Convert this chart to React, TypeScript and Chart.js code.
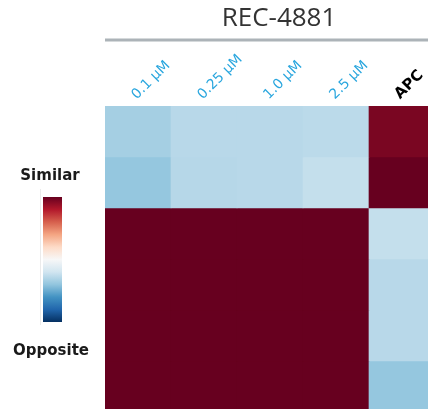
import React, { useEffect, useRef } from "react";
import { Chart, registerables } from "chart.js";

Chart.register(...registerables);

const columns = ["0.1 µM", "0.25 µM", "1.0 µM", "2.5 µM", "APC"];
const rowCount = 6;
// similarity values (-1 = opposite, 1 = similar), one array per row
const row0 = [-0.34, -0.28, -0.28, -0.27, 0.95];
const row1 = [-0.39, -0.285, -0.28, -0.24, 1.0];
const row2 = [1.0, 1.0, 1.0, 1.0, -0.24];
const row3 = [1.0, 1.0, 1.0, 1.0, -0.28];
const row4 = [1.0, 1.0, 1.0, 1.0, -0.28];
const row5 = [1.0, 1.0, 1.0, 1.0, -0.39];
const rows = [row0, row1, row2, row3, row4, row5];

const titleText = "REC-4881";
const legendTop = "Similar";
const legendBottom = "Opposite";

const rdbuStops = [
  "#053061", "#2166ac", "#4393c3", "#92c5de", "#d1e5f0", "#f7f7f7",
  "#fddbc7", "#f4a582", "#d6604d", "#b2182b", "#67001f",
];

function hexToRgb(h: string) {
  const n = parseInt(h.slice(1), 16);
  return [(n >> 16) & 255, (n >> 8) & 255, n & 255];
}

function rdbu(v: number) {
  const t = Math.max(0, Math.min(1, (v + 1) / 2)) * (rdbuStops.length - 1);
  const i = Math.min(rdbuStops.length - 2, Math.floor(t));
  const f = t - i;
  const a = hexToRgb(rdbuStops[i]);
  const b = hexToRgb(rdbuStops[i + 1]);
  const c = a.map((x, k) => Math.round(x + (b[k] - x) * f));
  return `rgb(${c[0]},${c[1]},${c[2]})`;
}

const decorPlugin = {
  id: "decor",
  afterDraw(chart: any) {
    const ctx = chart.ctx;
    const area = chart.chartArea;
    ctx.save();
    // title
    ctx.fillStyle = "#333333";
    ctx.font = "26px 'Open Sans'";
    ctx.textAlign = "center";
    ctx.textBaseline = "middle";
    ctx.fillText(titleText, 279, 19);
    // rule under title
    ctx.strokeStyle = "#acb3b8";
    ctx.lineWidth = 3;
    ctx.beginPath();
    ctx.moveTo(area.left, 40);
    ctx.lineTo(chart.width, 40);
    ctx.stroke();
    // legend labels
    ctx.fillStyle = "#1a1a1a";
    ctx.font = "bold 15px 'DejaVu Sans'";
    ctx.fillText(legendTop, 50, 176);
    ctx.fillText(legendBottom, 51, 351);
    // faint line
    ctx.strokeStyle = "#ebebeb";
    ctx.lineWidth = 1;
    ctx.beginPath();
    ctx.moveTo(40.5, 189);
    ctx.lineTo(40.5, 325);
    ctx.stroke();
    // gradient bar
    const g = ctx.createLinearGradient(0, 197, 0, 322);
    rdbuStops.forEach((c, i) => {
      g.addColorStop(1 - i / (rdbuStops.length - 1), c);
    });
    ctx.fillStyle = g;
    ctx.fillRect(43, 197, 19, 125);
    ctx.restore();
  },
};

export default function App() {
  const ref = useRef<HTMLCanvasElement>(null);
  useEffect(() => {
    if (!ref.current) return;
    const datasets = rows.map((vals, r) => ({
      label: `row ${r + 1}`,
      data: columns.map(() => [r, r + 1]),
      backgroundColor: vals.map(rdbu),
      borderWidth: 0,
      barPercentage: 1,
      categoryPercentage: 1,
      grouped: false,
    }));
    const chart = new Chart(ref.current, {
      type: "bar",
      data: { labels: columns, datasets: datasets as any },
      options: {
        animation: false,
        responsive: false,
        layout: { padding: { left: 105, right: 5, top: 46, bottom: 8 } },
        plugins: { legend: { display: false }, tooltip: { enabled: false }, title: { display: false } },
        scales: {
          x: {
            position: "top",
            grid: { display: false, drawTicks: false },
            border: { display: false },
            afterFit: (s: any) => {
              s.height = 60;
            },
            ticks: {
              autoSkip: false,
              minRotation: 45,
              maxRotation: 45,
              padding: 3,
              labelOffset: 8,
              color: (c: any) => (c.index === 4 ? "#000000" : "#29a6de"),
              font: (c: any) => ({
                family: "'DejaVu Sans'",
                size: c.index === 4 ? 15 : 14,
                weight: c.index === 4 ? "bold" : "normal",
              }),
            },
          },
          y: {
            display: false,
            reverse: true,
            min: 0,
            max: rowCount,
          },
        },
      },
      plugins: [decorPlugin],
    });
    return () => chart.destroy();
  }, []);
  return (
    <div
      style={{
        position: "fixed",
        left: 0,
        top: 0,
        width: 428,
        height: 409,
        overflow: "hidden",
        background: "#ffffff",
      }}
    >
      <canvas ref={ref} width={440} height={420} style={{ display: "block" }} />
    </div>
  );
}
